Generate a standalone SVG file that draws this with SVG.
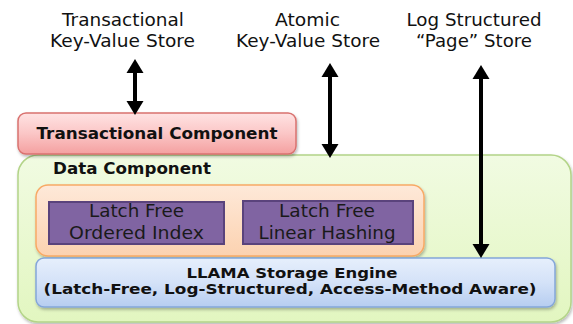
<svg xmlns="http://www.w3.org/2000/svg" width="573" height="324" viewBox="0 0 573 324">
  <style>
    .lbl { font-family: "DejaVu Sans", "Liberation Sans", sans-serif; font-size: 18px; fill: #111; text-anchor: middle; }
    .bold { font-family: "DejaVu Sans", "Liberation Sans", sans-serif; font-size: 16.5px; font-weight: bold; fill: #111; }
    .llama { font-family: "DejaVu Sans", "Liberation Sans", sans-serif; font-size: 14.2px; font-weight: bold; fill: #111; text-anchor: middle; }
    .pl { font-family: "DejaVu Sans", "Liberation Sans", sans-serif; font-size: 17px; fill: #1a1a1a; text-anchor: middle; }
    .arrow { stroke: #000; stroke-width: 4; fill: none; marker-start: url(#head); marker-end: url(#head); }
  </style>
  <defs>
    <linearGradient id="gRed" x1="0" y1="0" x2="0" y2="1">
      <stop offset="0" stop-color="#ffe3e3"/>
      <stop offset="0.5" stop-color="#fbc6c6"/>
      <stop offset="1" stop-color="#f4a0a0"/>
    </linearGradient>
    <linearGradient id="gGreen" x1="0" y1="0" x2="0" y2="1">
      <stop offset="0" stop-color="#f1fbe2"/>
      <stop offset="1" stop-color="#e2f6c0"/>
    </linearGradient>
    <linearGradient id="gOrange" x1="0" y1="0" x2="0" y2="1">
      <stop offset="0" stop-color="#fee9d9"/>
      <stop offset="1" stop-color="#fcd2b0"/>
    </linearGradient>
    <linearGradient id="gBlue" x1="0" y1="0" x2="0" y2="1">
      <stop offset="0" stop-color="#e6effc"/>
      <stop offset="0.5" stop-color="#d4e2f8"/>
      <stop offset="1" stop-color="#b6cdf0"/>
    </linearGradient>
    <filter id="shadow" x="-5%" y="-10%" width="110%" height="130%">
      <feDropShadow dx="1" dy="2" stdDeviation="1.5" flood-color="#000" flood-opacity="0.28"/>
    </filter>
    <marker id="head" markerUnits="userSpaceOnUse" viewBox="0 -9 15 18" refX="7" refY="0" markerWidth="15" markerHeight="18" orient="auto-start-reverse">
      <path d="M0,-8.5 L14,0 L0,8.5 z" fill="#000"/>
    </marker>
  </defs>

  <g id="label-transactional-kv">
    <text class="lbl" x="123" y="26" textLength="122" lengthAdjust="spacingAndGlyphs">Transactional</text>
    <text class="lbl" x="122.5" y="47" textLength="145" lengthAdjust="spacingAndGlyphs">Key-Value Store</text>
  </g>
  <g id="label-atomic-kv">
    <text class="lbl" x="307.5" y="25.5" textLength="65" lengthAdjust="spacingAndGlyphs">Atomic</text>
    <text class="lbl" x="308" y="46.7" textLength="144" lengthAdjust="spacingAndGlyphs">Key-Value Store</text>
  </g>
  <g id="label-log-structured">
    <text class="lbl" x="474" y="25.5" textLength="135" lengthAdjust="spacingAndGlyphs">Log Structured</text>
    <text class="lbl" x="474" y="46.5" textLength="116" lengthAdjust="spacingAndGlyphs">“Page” Store</text>
  </g>

  <g id="data-component">
    <rect x="18" y="155" width="553" height="167" rx="20" ry="20" fill="url(#gGreen)" stroke="#b3d488" stroke-width="1.5" filter="url(#shadow)"/>
    <text class="bold" x="53" y="174" textLength="158" lengthAdjust="spacingAndGlyphs">Data Component</text>
  </g>

  <g id="transactional-component">
    <rect x="18" y="113" width="278" height="41" rx="8" ry="8" fill="url(#gRed)" stroke="#d9726f" stroke-width="1.5" filter="url(#shadow)"/>
    <text class="bold" x="157" y="139" text-anchor="middle" textLength="241" lengthAdjust="spacingAndGlyphs">Transactional Component</text>
  </g>

  <g id="access-methods">
    <rect x="36" y="185" width="388" height="71" rx="12" ry="12" fill="url(#gOrange)" stroke="#f8a965" stroke-width="1.5" filter="url(#shadow)"/>
  </g>

  <g id="ordered-index">
    <rect x="49" y="202" width="175" height="42" fill="#8064a2" stroke="#5a437c" stroke-width="2"/>
    <text class="pl" x="136.5" y="216.5" textLength="95" lengthAdjust="spacingAndGlyphs">Latch Free</text>
    <text class="pl" x="136.5" y="239" textLength="135" lengthAdjust="spacingAndGlyphs">Ordered Index</text>
  </g>

  <g id="linear-hashing">
    <rect x="243" y="201" width="170" height="43" fill="#8064a2" stroke="#5a437c" stroke-width="2"/>
    <text class="pl" x="327" y="216.5" textLength="96" lengthAdjust="spacingAndGlyphs">Latch Free</text>
    <text class="pl" x="327" y="239" textLength="137" lengthAdjust="spacingAndGlyphs">Linear Hashing</text>
  </g>

  <g id="llama-storage-engine">
    <rect x="36" y="258" width="519" height="49" rx="8" ry="8" fill="url(#gBlue)" stroke="#84a6d9" stroke-width="1.5" filter="url(#shadow)"/>
    <text class="llama" x="292" y="277.5" textLength="211" lengthAdjust="spacingAndGlyphs">LLAMA Storage Engine</text>
    <text class="llama" x="290" y="294" textLength="493" lengthAdjust="spacingAndGlyphs">(Latch-Free, Log-Structured, Access-Method Aware)</text>
  </g>

  <g id="connectors">
    <line class="arrow" x1="135" y1="66" x2="135" y2="108"/>
    <line class="arrow" x1="330" y1="70" x2="330" y2="151"/>
    <line class="arrow" x1="481" y1="72" x2="481" y2="251"/>
  </g>
</svg>
